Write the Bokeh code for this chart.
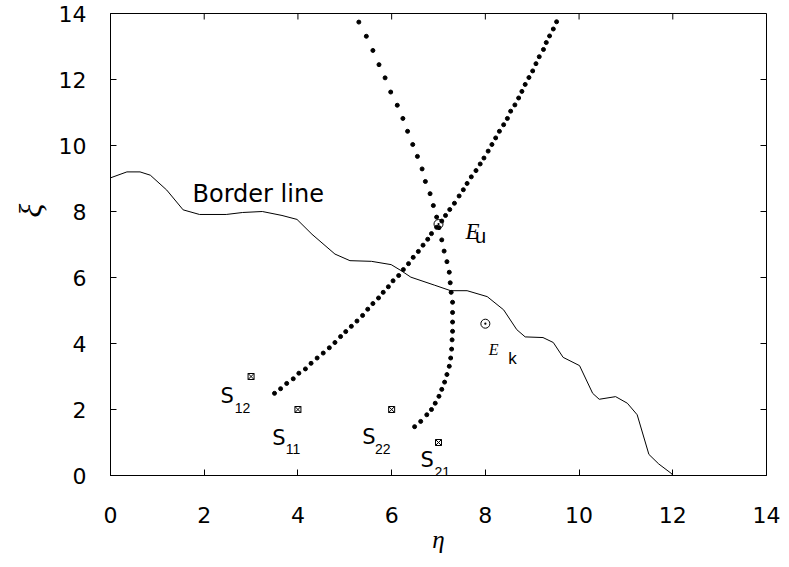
import math
from bokeh.plotting import figure
from bokeh.models import Range1d, FixedTicker, Label, Title
from bokeh.embed import file_html
from bokeh.resources import INLINE

# ---------------- data ----------------
ticks = [0, 2, 4, 6, 8, 10, 12, 14]

border_eta = [0.0, 0.35, 0.63, 0.85, 1.2, 1.55, 1.9, 2.47, 2.82, 3.24, 3.66, 3.98,
              4.3, 4.79, 5.11, 5.57, 5.99, 6.2, 6.41, 6.91, 7.26, 7.61, 8.04, 8.39,
              8.67, 8.85, 9.23, 9.45, 9.66, 10.01, 10.29, 10.43, 10.78, 11.03, 11.24,
              11.49, 11.7, 11.98, 12.0]
border_xi = [9.02, 9.2, 9.2, 9.1, 8.65, 8.05, 7.91, 7.91, 7.97, 8.0, 7.88, 7.76,
             7.31, 6.71, 6.51, 6.49, 6.39, 6.21, 6.01, 5.77, 5.6, 5.6, 5.42, 5.02,
             4.42, 4.2, 4.18, 4.03, 3.58, 3.33, 2.49, 2.31, 2.39, 2.19, 1.84,
             0.64, 0.35, 0.05, 0.0]

# trajectory 1 (from S12 region towards upper right)
c1_eta = [3.50, 3.63, 3.76, 3.90, 4.02, 4.16, 4.28, 4.41, 4.54, 4.67, 4.79, 4.91,
          5.02, 5.14, 5.26, 5.38, 5.49, 5.60, 5.72, 5.82, 5.93, 6.03, 6.15, 6.25,
          6.36, 6.46, 6.57, 6.67, 6.77, 6.85, 6.96, 7.07, 7.15, 7.24, 7.34, 7.44,
          7.53, 7.61, 7.70, 7.80, 7.89, 7.97, 8.06, 8.14, 8.22, 8.30, 8.39, 8.47,
          8.54, 8.63, 8.71, 8.78, 8.85, 8.93, 9.01, 9.08, 9.15, 9.24, 9.30, 9.37,
          9.45, 9.52]
c1_xi = [2.49, 2.63, 2.79, 2.93, 3.10, 3.23, 3.40, 3.56, 3.71, 3.87, 4.03, 4.21,
         4.36, 4.52, 4.68, 4.85, 5.04, 5.21, 5.38, 5.55, 5.72, 5.90, 6.06, 6.24,
         6.42, 6.61, 6.79, 6.98, 7.16, 7.33, 7.52, 7.71, 7.88, 8.06, 8.25, 8.47,
         8.66, 8.85, 9.05, 9.24, 9.44, 9.62, 9.83, 10.03, 10.23, 10.43, 10.63, 10.82,
         11.04, 11.23, 11.44, 11.64, 11.85, 12.06, 12.26, 12.48, 12.69, 12.91, 13.12, 13.32,
         13.53, 13.75]

# trajectory 2 (from top, bending down towards S21)
c2_eta = [5.30, 5.46, 5.60, 5.73, 5.86, 5.98, 6.12, 6.24, 6.34, 6.45, 6.55, 6.65,
          6.72, 6.82, 6.89, 6.96, 7.01, 7.07, 7.12, 7.18, 7.23, 7.25, 7.27, 7.30,
          7.30, 7.30, 7.30, 7.29, 7.28, 7.26, 7.23, 7.18, 7.13, 7.07, 7.01, 6.93,
          6.85, 6.75, 6.62, 6.49]
c2_xi = [13.74, 13.31, 12.88, 12.45, 12.05, 11.62, 11.22, 10.82, 10.43, 10.03, 9.67, 9.29,
         8.91, 8.54, 8.18, 7.83, 7.51, 7.14, 6.80, 6.48, 6.16, 5.84, 5.55, 5.25,
         4.94, 4.65, 4.37, 4.11, 3.83, 3.56, 3.31, 3.06, 2.83, 2.61, 2.40, 2.19,
         2.00, 1.84, 1.64, 1.48]

saddle_eta = [3, 4, 6, 7]
saddle_xi = [3, 2, 2, 1]
saddle_sub = ["12", "11", "22", "21"]

eq_eta = [7, 8]
eq_xi = [7.62, 4.6]
eq_sub = ["u", "k"]

# ---------------- styling ----------------
SANS = "DejaVu Sans"
SERIF = "Liberation Serif"

p = figure(width=781, height=559, output_backend="svg", toolbar_location=None,
           x_range=Range1d(0, 14), y_range=Range1d(0, 14),
           min_border_left=110, min_border_right=15, min_border_top=13,
           min_border_bottom=84, background_fill_color="white",
           border_fill_color="white")
p.xgrid.visible = False
p.ygrid.visible = False
p.outline_line_color = "black"

for ax in (p.xaxis[0], p.yaxis[0]):
    ax.ticker = FixedTicker(ticks=ticks)
    ax.major_tick_in = 6
    ax.major_tick_out = 0
    ax.minor_tick_in = 0
    ax.minor_tick_out = 0
    ax.axis_line_color = "black"
    ax.major_tick_line_color = "black"
    ax.major_label_text_font = SANS
    ax.major_label_text_font_size = "22px"
    ax.major_label_text_color = "black"
p.xaxis[0].major_label_standoff = 31
p.yaxis[0].major_label_standoff = 24

p.xaxis[0].axis_label = "η"
p.xaxis[0].axis_label_text_font = SERIF
p.xaxis[0].axis_label_text_font_style = "italic"
p.xaxis[0].axis_label_text_font_size = "25px"
p.xaxis[0].axis_label_standoff = 0
p.xaxis[0].axis_label_text_color = "black"

# y-axis title (sits above the centre of the axis)
p.add_layout(Title(text="ξ", align="left", offset=258, text_font=SERIF,
                   text_font_style="italic", text_font_size="32px",
                   text_color="black", standoff=16), "left")

# inner ticks on the top and right edges, placed from the same tick list
p.ray(x=ticks, y=[14] * len(ticks), length=6, length_units="screen",
      angle=-math.pi / 2, line_color="black", line_width=1)
p.ray(x=[14] * len(ticks), y=ticks, length=6, length_units="screen",
      angle=math.pi, line_color="black", line_width=1)

# border line
p.line(border_eta, border_xi, line_color="black", line_width=1)

# dotted trajectories
p.scatter(c1_eta, c1_xi, size=4, color="black")
p.scatter(c2_eta, c2_xi, size=4, color="black")

# saddle points
p.scatter(saddle_eta, saddle_xi, marker="square_x", size=6, fill_color=None,
          line_color="black", line_width=1)

# equilibrium points
p.scatter(eq_eta, eq_xi, marker="circle_dot", size=9, fill_color=None,
          line_color="black", line_width=1)

# saddle labels (offsets in screen px: right, up)
s_off = [(-30.6, -19.4), (-25.6, -28.3), (-29.3, -27.6), (-18.0, -17.7)]
sub_off = [(-16.3, -31.4), (-12.3, -39.7), (-16.6, -39.0), (-4.0, -29.0)]
for i in range(len(saddle_eta)):
    p.add_layout(Label(x=saddle_eta[i], y=saddle_xi[i], text="S",
                       x_offset=s_off[i][0], y_offset=s_off[i][1],
                       text_font=SANS, text_font_size="21px", text_color="black",
                       text_baseline="alphabetic", text_align="left"))
    p.add_layout(Label(x=saddle_eta[i], y=saddle_xi[i], text=saddle_sub[i],
                       x_offset=sub_off[i][0], y_offset=sub_off[i][1],
                       text_font="Liberation Sans", text_font_size="14px",
                       text_color="black", text_baseline="alphabetic",
                       text_align="left"))

# equilibrium labels
e_font = ["23px", "16px"]
e_off = [(27.0, -7.3), (3.5, -26.0)]
sub_font = ["20px", "17px"]
esub_off = [(36.6, -12.3), (23.0, -34.3)]
for i in range(len(eq_eta)):
    p.add_layout(Label(x=eq_eta[i], y=eq_xi[i], text="E",
                       x_offset=e_off[i][0], y_offset=e_off[i][1],
                       text_font=SERIF, text_font_style="italic",
                       text_font_size=e_font[i], text_color="black",
                       text_baseline="alphabetic", text_align="left"))
    p.add_layout(Label(x=eq_eta[i], y=eq_xi[i], text=eq_sub[i],
                       x_offset=esub_off[i][0], y_offset=esub_off[i][1],
                       text_font="Liberation Sans", text_font_size=sub_font[i],
                       text_color="black", text_baseline="alphabetic",
                       text_align="left"))

# "Border line" annotation
p.add_layout(Label(x=1.75, y=8.52, text="Border line", text_font=SANS,
                   text_font_size="24px", text_color="black",
                   text_baseline="alphabetic", text_align="left"))

open("out.html", "w").write(file_html(p, INLINE))
